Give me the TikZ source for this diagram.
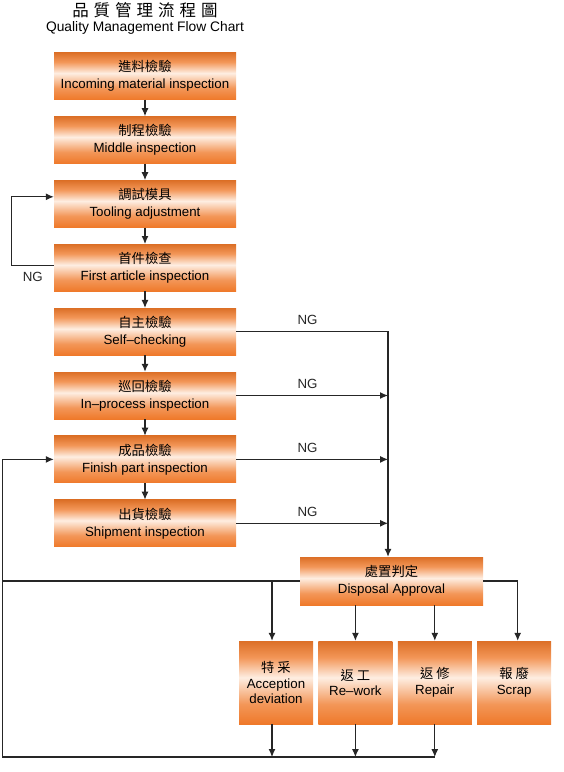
\documentclass[tikz,border=0pt]{standalone}
\usepackage{fontspec}
\setmainfont{Liberation Sans}
\newfontfamily\cjk{Noto Sans CJK TC}
\usetikzlibrary{arrows.meta,positioning,calc}
\definecolor{boxorange}{RGB}{239,121,42}
\definecolor{boxlight}{RGB}{254,238,226}
\pgfdeclareverticalshading{orangeband}{100bp}{color(0bp)=(boxorange); color(25bp)=(boxorange); color(37bp)=(boxorange!75!boxlight); color(53bp)=(boxlight); color(65bp)=(boxorange!75!boxlight); color(75bp)=(boxorange!92!black); color(100bp)=(boxorange!92!black)}
\tikzset{
    stage/.style={shade, shading=orangeband, minimum width=182pt, minimum height=47pt, inner sep=0pt, align=center, font=\fontsize{13.3}{17}\selectfont},
    outcome/.style={stage, minimum width=74pt, minimum height=83pt, font=\fontsize{13.3}{15.5}\selectfont},
    flow/.style={-{Latex[length=8pt, width=7pt]}, line width=1.1pt, black!85},
    link/.style={line width=1.1pt, black!85},
    ng/.style={inner sep=0pt, font=\fontsize{13.3}{16}\selectfont}
}

\begin{document}
\begin{tikzpicture}[x=1pt, y=-1pt, node distance=16.5pt]
    \useasboundingbox (0,0) rectangle (563,772);
    % title
    \node (titlecn) at (145,10) {\cjk\fontsize{16.5}{16.5}\selectfont 品\hspace{5pt}質\hspace{5pt}管\hspace{5pt}理\hspace{5pt}流\hspace{5pt}程\hspace{5pt}圖};
    \node (titleen) at (145,28) {\fontsize{13.8}{16}\selectfont Quality Management Flow Chart};

    % main column
    \node[stage] (in) at (145,76) {{\cjk 進料檢驗}\\Incoming material inspection};
    \node[stage, below=of in] (mid) {{\cjk 制程檢驗}\\Middle inspection};
    \node[stage, below=of mid] (tool) {{\cjk 調試模具}\\Tooling adjustment};
    \node[stage, below=of tool] (first) {{\cjk 首件檢查}\\First article inspection};
    \node[stage, below=of first] (self) {{\cjk 自主檢驗}\\Self–checking};
    \node[stage, below=of self] (patrol) {{\cjk 巡回檢驗}\\In–process inspection};
    \node[stage, below=of patrol] (finish) {{\cjk 成品檢驗}\\Finish part inspection};
    \node[stage, below=of finish] (ship) {{\cjk 出貨檢驗}\\Shipment inspection};

    % disposal and outcomes
    \node[stage, minimum width=183pt, minimum height=48pt] (disp) at (391.5,581) {{\cjk 處置判定}\\Disposal Approval};
    \node[outcome] (accept) at (276,682.5) {{\cjk 特 采}\\Acception\\deviation};
    \node[outcome, right=5pt of accept] (rework) {{\cjk 返 工}\\Re–work};
    \node[outcome, right=5pt of rework] (repair) {{\cjk 返 修}\\Repair};
    \node[outcome, right=5pt of repair] (scrap) {{\cjk 報 廢}\\Scrap};

    \coordinate (ngcol) at (388,0);
    \coordinate (rim) at (2.5,757);

    \foreach \a/\b in {in/mid, mid/tool, tool/first, first/self, self/patrol, patrol/finish, finish/ship}
        \draw[flow] (\a) -- (\b);

    % NG loop back to tooling
    \draw[flow] ([yshift=2pt]first.west) -- node[ng, below=6pt] (ngfirst) {NG} ++(-42pt,0) |- ([yshift=7pt]tool.west);

    % NG to disposal
    \draw[flow] (self.east) -- node[ng, above=6pt, pos=0.47] (ngself) {NG} (self.east -| ngcol) -- (ngcol |- disp.north);
    \foreach \s in {patrol, finish, ship}
        \draw[flow] (\s.east) -- node[ng, above=6pt, pos=0.47] (ng\s) {NG} (\s.east -| ngcol);

    % disposal branches
    \draw[link] (disp.west) -- (disp.west -| rim);
    \draw[flow] ([xshift=-4pt]accept.north |- disp.west) -- ([xshift=-4pt]accept.north);
    \draw[flow] (disp.south -| rework.north) -- (rework.north);
    \draw[flow] (disp.south -| repair.north) -- (repair.north);
    \draw[flow] (disp.east) -| ([xshift=3.5pt]scrap.north);

    % return to finish part inspection
    \draw[flow] ([xshift=-4pt]accept.south) -- ([xshift=-4pt]accept.south |- rim);
    \draw[flow] (rework.south) -- (rework.south |- rim);
    \draw[flow] (repair.south) -- (repair.south |- rim);
    \draw[flow] (repair.south |- rim) -- (rim) |- (finish.west);
\end{tikzpicture}
\end{document}
